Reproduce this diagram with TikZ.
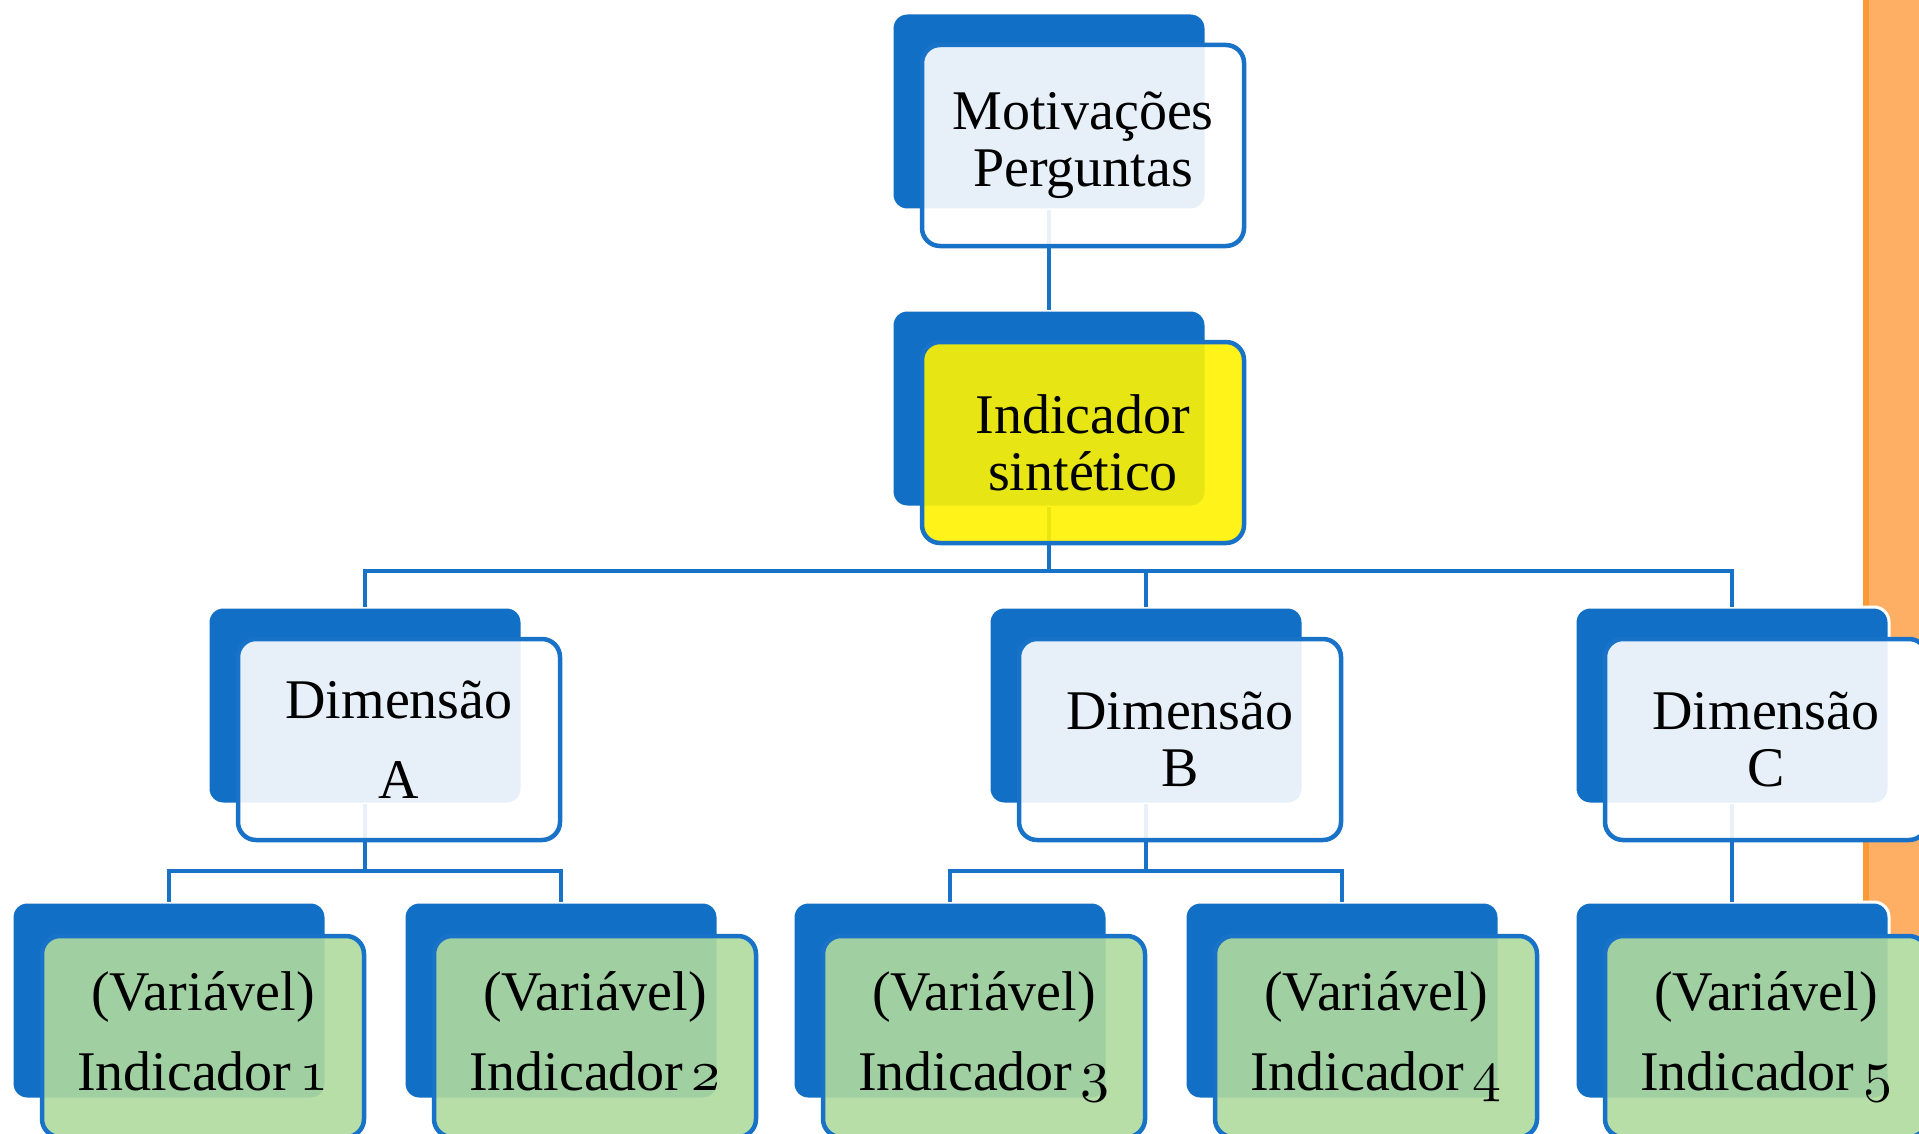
\documentclass[tikz,border=0pt]{standalone}
\usepackage{fontspec}
\setmainfont{Liberation Serif}
\usepackage{tikz}
\definecolor{bback}{RGB}{17,112,198}
\definecolor{bline}{RGB}{24,114,200}
\definecolor{oran}{RGB}{255,175,100}
\definecolor{orandk}{RGB}{249,154,53}
\definecolor{ygreen}{RGB}{176,219,158}
\font\myosfont=cmmi10 at 58pt
\newcommand\osnum[1]{{\myosfont #1}\vphantom{\myosfont 5}}
\begin{document}
\begin{tikzpicture}[x=1pt,y=-1pt,
  back/.style={draw=white, line width=3pt, fill=bback, rounded corners=15pt,
    minimum width=314pt, minimum height=197pt, anchor=north west, inner sep=0pt, outer sep=0pt},
  frontshape/.style={rounded corners=18pt, minimum width=322pt, minimum height=201pt,
    anchor=north west, inner sep=0pt, outer sep=0pt},
  front/.style={frontshape, draw=bline, line width=4.5pt, fill opacity=0.9, text opacity=1,
    align=center, font=\fontsize{56}{57}\selectfont, text=black},
  loose/.style={font=\fontsize{56}{80}\selectfont},
  lblue/.style={fill=white},
  yel/.style={fill=yellow},
  grn/.style={fill=ygreen, loose},
  conn/.style={draw=bline, line width=4pt}
]
\useasboundingbox (0,0) rectangle (1919,1134);
\fill[white] (0,0) rectangle (1919,1134);
% orange strip
\fill[oran] (1863,0) rectangle (1919,1134);
\fill[orandk] (1863,0) rectangle (1869,1134);
% white underlays of the front boxes that reach the strip
\node[frontshape, fill=white] (Cu) at (1605,639) {};
\node[frontshape, fill=white] (I5u) at (1605,934) {};
% back boxes
\node[back] (Mb) at (892,13) {};
\node[back] (Yb) at (892,310) {};
\node[back] (Ab) at (208,607) {};
\node[back] (Bb) at (989,607) {};
\node[back] (Cb) at (1575,607) {};
\node[back] (I1b) at (12,902) {};
\node[back] (I2b) at (404,902) {};
\node[back] (I3b) at (793,902) {};
\node[back] (I4b) at (1185,902) {};
\node[back] (I5b) at (1575,902) {};
% connectors
\draw[conn] (Mb.south) -- (Yb.north);
\draw[conn] (Yb.south) -- ++(0,64) -| (Ab.north);
\draw[conn] (Yb.south) -- ++(0,64) -| (Bb.north);
\draw[conn] (Yb.south) -- ++(0,64) -| (Cb.north);
\draw[conn] (Ab.south) -- ++(0,67) -| (I1b.north);
\draw[conn] (Ab.south) -- ++(0,67) -| (I2b.north);
\draw[conn] (Bb.south) -- ++(0,67) -| (I3b.north);
\draw[conn] (Bb.south) -- ++(0,67) -| (I4b.north);
\draw[conn] (Cb.south) -- (I5b.north);
% front boxes
\node[front,lblue] (Mf) at (922,45) {Motivações\\Perguntas};
\node[front,yel] (Yf) at (922,342) {Indicador\\sintético};
\node[front,lblue,loose] (Af) at (238,639) {Dimensão\\A};
\node[front,lblue] (Bf) at (1019,639) {Dimensão\\B};
\node[front,lblue] (Cf) at (1605,639) {Dimensão\\C};
\node[front,grn] (I1f) at (42,936) {(Variável)\\Indicador\hspace{0.15em}\osnum{1}};
\node[front,grn] (I2f) at (434,936) {(Variável)\\Indicador\hspace{0.15em}\osnum{2}};
\node[front,grn] (I3f) at (823,936) {(Variável)\\Indicador\hspace{0.15em}\osnum{3}};
\node[front,grn] (I4f) at (1215,936) {(Variável)\\Indicador\hspace{0.15em}\osnum{4}};
\node[front,grn] (I5f) at (1605,936) {(Variável)\\Indicador\hspace{0.15em}\osnum{5}};
\end{tikzpicture}
\end{document}
